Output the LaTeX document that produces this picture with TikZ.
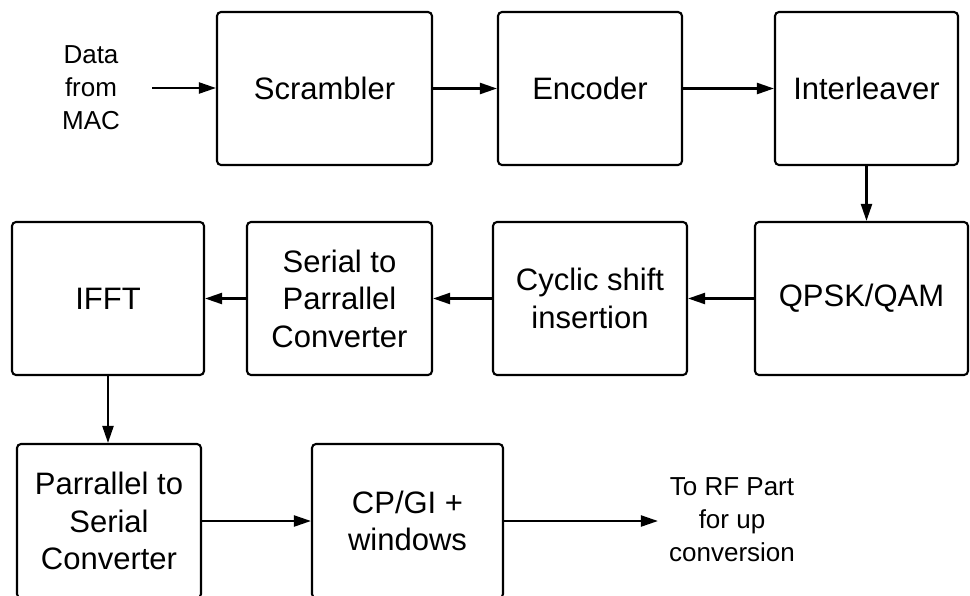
\documentclass[tikz,border=0pt]{standalone}
\usepackage{fontspec}
\setmainfont{Liberation Sans}
\usetikzlibrary{arrows.meta}
\begin{document}
\begin{tikzpicture}[x=1pt,y=-1pt,
  blk/.style={draw=black, line width=2.1pt, rounded corners=4pt, minimum height=153pt,
    align=center, font=\fontsize{31}{37.5}\selectfont, inner sep=0pt},
  side/.style={align=center, font=\fontsize{26}{33}\selectfont, inner sep=0pt},
  arr/.style={line width=2.2pt, -{Triangle[length=17pt,width=11pt]}}]
\useasboundingbox (0,0) rectangle (970,595);
\clip (0,0) rectangle (970,595);
% row 1
\node[blk, minimum width=215pt] (scr) at (324.5,88.5) {Scrambler};
\node[blk, minimum width=184pt] (enc) at (590,88.5) {Encoder};
\node[blk, minimum width=183pt] (int) at (866.5,88.5) {Interleaver};
% row 2
\node[blk, minimum width=192pt] (ifft) at (108,298.5) {IFFT};
\node[blk, minimum width=185pt] (s2p) at (339.5,298.5) {Serial to\\Parrallel\\Converter};
\node[blk, minimum width=194pt] (cyc) at (590,298.5) {Cyclic shift\\insertion};
\node[blk, minimum width=213pt] (qam) at (861.5,298.5) {QPSK/QAM};
% row 3
\node[blk, minimum width=184pt, minimum height=154pt] (p2s) at (109,521) {Parrallel to\\Serial\\Converter};
\node[blk, minimum width=191pt, minimum height=154pt] (cp) at (407.5,521) {CP/GI +\\windows};
% side texts
\node[side] (data) at (91,88) {Data\\from\\MAC};
\node[side] (rf) at (732,520) {To RF Part\\for up\\conversion};
% connectors
\draw[arr, shorten <=32pt] (data.east) -- (data.east -| scr.west);
\draw[arr] (scr.east) -- (enc.west);
\draw[arr] (enc.east) -- (int.west);
\draw[arr] (int.south) -- (int.south |- qam.north);
\draw[arr] (qam.west) -- (cyc.east);
\draw[arr] (cyc.west) -- (s2p.east);
\draw[arr] (s2p.west) -- (ifft.east);
\draw[arr] (ifft.south) -- (ifft.south |- p2s.north);
\draw[arr] (p2s.east) -- (cp.west);
\draw[arr, shorten >=11pt] (cp.east) -- (cp.east -| rf.west);
\end{tikzpicture}
\end{document}
